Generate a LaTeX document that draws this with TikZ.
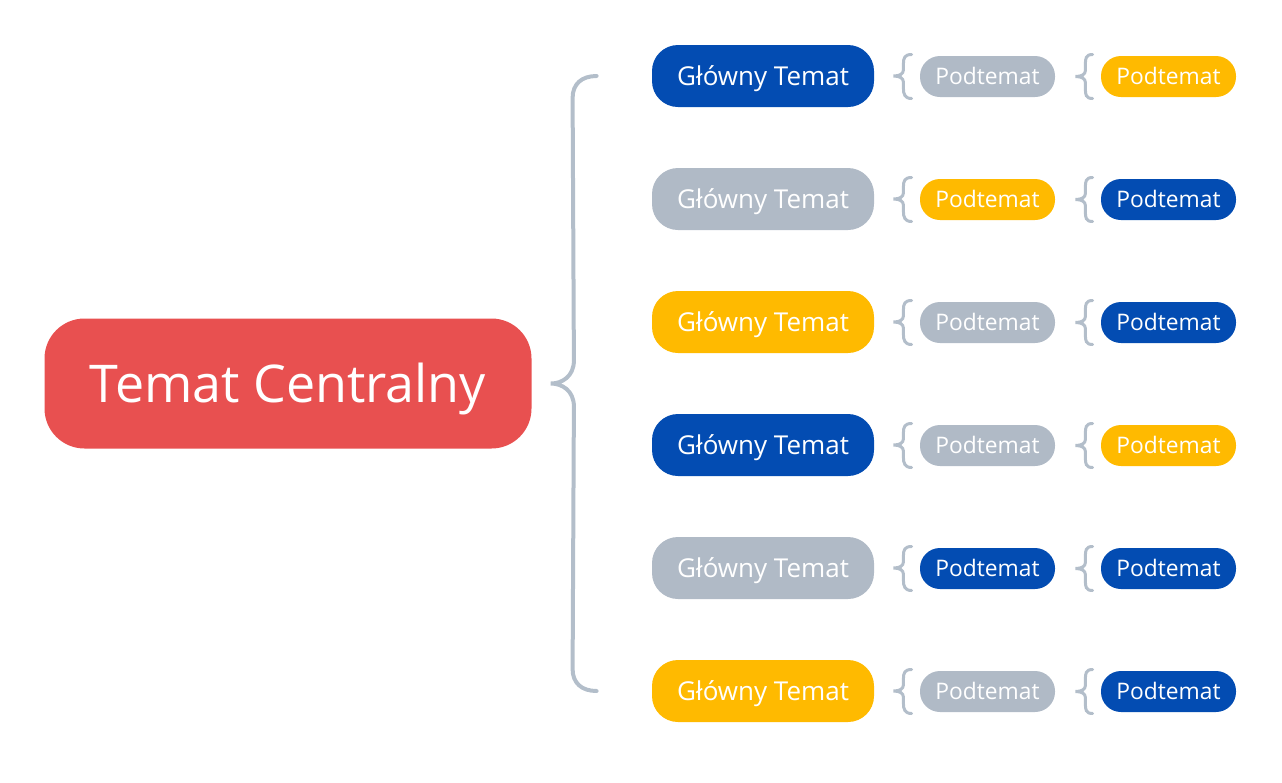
\documentclass[tikz,border=0pt]{standalone}
\usepackage{fontspec}
\setmainfont{Open Sans}
\usetikzlibrary{calc,positioning}
\definecolor{centred}{HTML}{E85050}
\definecolor{topicblue}{HTML}{034CB2}
\definecolor{topicgrey}{HTML}{B0BAC6}
\definecolor{topicgold}{HTML}{FFBA00}
\definecolor{bracegrey}{HTML}{B3BECA}
\tikzset{central/.style={fill=centred, text=white, rounded corners=20pt, minimum width=243.5pt, minimum height=65pt, text height=18.6pt, text depth=-1pt, font=\fontsize{26}{30}\selectfont}, topic/.style={text=white, rounded corners=13pt, minimum width=111pt, minimum height=31pt, text height=9.3pt, text depth=-1.4pt, font=\fontsize{13}{15}\selectfont}, subtopic/.style={text=white, rounded corners=10pt, minimum width=67.5pt, minimum height=20.5pt, text height=8.1pt, text depth=-1pt, font=\fontsize{11.4}{13}\selectfont}, brace/.style={draw=bracegrey, line width=2pt, line cap=round}, smallbrace/.style={draw=bracegrey, line width=1.5pt, line cap=round}}

\begin{document}
\begin{tikzpicture}[x=0.5pt, y=-0.5pt]
\useasboundingbox (0,0) rectangle (1282,783);
\node[central] (c) at (288,383.5) {Temat Centralny};
% rows: main topic, then two subtopics
\foreach \i/\cm/\ca/\cb in {1/topicblue/topicgrey/topicgold, 2/topicgrey/topicgold/topicblue, 3/topicgold/topicgrey/topicblue, 4/topicblue/topicgrey/topicgold, 5/topicgrey/topicblue/topicblue, 6/topicgold/topicgrey/topicblue}{
  \node[topic, fill=\cm] (m\i) at (763,{76+123*(\i-1)}) {Główny Temat};
  \node[subtopic, fill=\ca] (s\i a) at (987.5,{76.5+123*(\i-1)}) {Podtemat};
  \node[subtopic, fill=\cb] (s\i b) at (1168.5,{76.5+123*(\i-1)}) {Podtemat};
  \coordinate (ta\i) at ($(m\i.east)+(19,0)$); \coordinate (tb\i) at ($(s\i a.east)+(20,0)$);
  \draw[smallbrace] ($(s\i a.west)+(-8,-22)$) .. controls +(-7,0) and +(0,-6) .. ($(ta\i)+(10,-12)$) -- ($(ta\i)+(10,-6)$) .. controls +(0,4) and +(6,0) .. (ta\i) .. controls +(6,0) and +(0,-4) .. ($(ta\i)+(10,6)$) -- ($(ta\i)+(10,12)$) .. controls +(0,6) and +(-7,0) .. ($(s\i a.west)+(-8,22)$);
  \draw[smallbrace] ($(s\i b.west)+(-8,-22)$) .. controls +(-7,0) and +(0,-6) .. ($(tb\i)+(10,-12)$) -- ($(tb\i)+(10,-6)$) .. controls +(0,4) and +(6,0) .. (tb\i) .. controls +(6,0) and +(0,-4) .. ($(tb\i)+(10,6)$) -- ($(tb\i)+(10,12)$) .. controls +(0,6) and +(-7,0) .. ($(s\i b.west)+(-8,22)$);
}
\coordinate (tip) at ($(c.east)+(19,0)$); \coordinate (top) at ($(m1.west)+(-55,0)$); \coordinate (bot) at ($(m6.west)+(-55,0)$);
\draw[brace] (top) .. controls +(-15,0) and +(0,-14) .. ($(top)+(-24,22)$) -- ($(tip)+(23,-23)$) .. controls +(0,16) and +(11,0) .. (tip) .. controls +(11,0) and +(0,-16) .. ($(tip)+(23,23)$) -- ($(bot)+(-24,-22)$) .. controls +(0,14) and +(-15,0) .. (bot);
\end{tikzpicture}
\end{document}
